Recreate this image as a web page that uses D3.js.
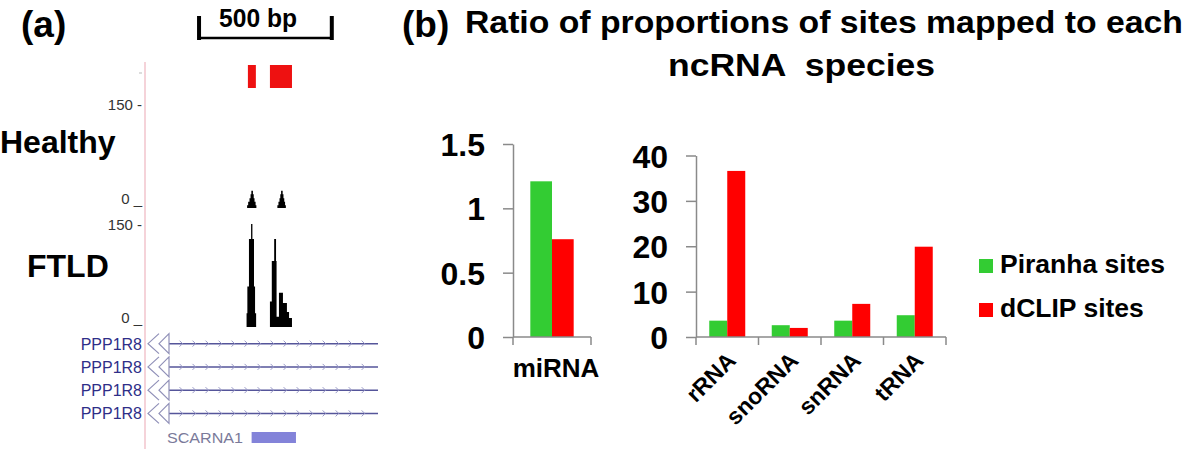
<!DOCTYPE html>
<html>
<head>
<meta charset="utf-8">
<script src="https://cdn.jsdelivr.net/npm/d3@7"></script>
<style>
  html, body { margin: 0; padding: 0; background: #fff; }
  svg { display: block; font-family: "Liberation Sans", Arial, Helvetica, sans-serif; }
</style>
</head>
<body>
<svg id="chart" width="1200" height="449"></svg>
<script>
// ---------------- DATA ----------------
// Panel (b) bar charts
const seriesNames = ["Piranha sites", "dCLIP sites"];
const seriesColors = ["#33cc33", "#ff0000"];
const leftCategories = ["miRNA"];
const leftPiranha = [1.21];
const leftDclip = [0.76];
const leftTicks = [0, 0.5, 1, 1.5];
const leftTickLabels = ["0", "0.5", "1", "1.5"];
const rightCategories = ["rRNA", "snoRNA", "snRNA", "tRNA"];
const rightPiranha = [3.6, 2.6, 3.6, 4.8];
const rightDclip = [36.6, 2.0, 7.3, 19.9];
const rightTicks = [0, 10, 20, 30, 40];
const rightTickLabels = ["0", "10", "20", "30", "40"];
const titleLines = ["Ratio of proportions of sites mapped to each", "ncRNA  species"];

// Panel (a) genome browser (relative bp positions)
const scaleBarLabel = "500 bp";
const scaleBarBp = [196, 696];
const peakCalls = [[380, 410], [463, 546]];
const trackTicks = [0, 150];
const trackNames = ["Healthy", "FTLD"];
const healthyCoverage = [
  [[374, 0], [377, 4], [381, 9], [386, 14], [390, 20], [393, 25], [399, 20], [402, 14], [405, 9], [409, 4], [412, 0]],
  [[488, 0], [491, 4], [495, 9], [499, 14], [502, 20], [505, 25], [511, 20], [514, 14], [517, 9], [520, 4], [523, 0]]
];
const ftldCoverage = [
  [[374, 0], [375, 20], [378, 59], [384, 128], [392, 150], [397, 128], [403, 59], [407, 20], [411, 0]],
  [[462, 0], [463, 37], [470, 96], [479, 128], [486, 96], [488, 15], [497, 50], [512, 35], [527, 22], [535, 13], [546, 0]]
];
const geneNames = ["PPP1R8", "PPP1R8", "PPP1R8", "PPP1R8"];
const smallRna = { name: "SCARNA1", start: 394, end: 561 };

// ---------------- DRAW ----------------
const svg = d3.select("#chart");
const FONT = '"Liberation Sans", Arial, Helvetica, sans-serif';

// ===== Panel (a) =====
const gA = svg.append("g");
gA.append("text").attr("x", 21).attr("y", 37).attr("font-size", 37).attr("font-weight", "bold").text("(a)");

const gx = d3.scaleLinear().domain([0, 870]).range([147, 378]);

// scale bar
const sb = gA.append("g").attr("stroke", "#000");
sb.append("line").attr("x1", gx(scaleBarBp[0])).attr("x2", gx(scaleBarBp[1])).attr("y1", 38).attr("y2", 38).attr("stroke-width", 2.5);
sb.selectAll("line.tick").data(scaleBarBp).join("line").attr("class", "tick")
  .attr("x1", d => gx(d)).attr("x2", d => gx(d)).attr("y1", 16).attr("y2", 40).attr("stroke-width", 4);
gA.append("text").attr("x", 219).attr("y", 27)
  .attr("font-size", 25).attr("font-weight", "bold")
  .attr("textLength", 78).attr("lengthAdjust", "spacingAndGlyphs")
  .text(scaleBarLabel);

// pink vertical line
gA.append("line").attr("x1", 145).attr("x2", 145).attr("y1", 62).attr("y2", 449)
  .attr("stroke", "#f2c4cc").attr("stroke-width", 1.5);
gA.append("line").attr("x1", 139).attr("x2", 142).attr("y1", 73).attr("y2", 73).attr("stroke", "#bbb");

// peak calls
gA.selectAll("rect.peak").data(peakCalls).join("rect").attr("class", "peak")
  .attr("x", d => gx(d[0])).attr("width", d => gx(d[1]) - gx(d[0]))
  .attr("y", 65).attr("height", 23).attr("fill", "#ee1111");

// tracks
const tracks = [
  { name: trackNames[0], cov: healthyCoverage, y: d3.scaleLinear().domain([0, 150]).range([208, 104]).clamp(true), labelX: 0, labelY: 153 },
  { name: trackNames[1], cov: ftldCoverage, y: d3.scaleLinear().domain([0, 150]).range([327, 224]).clamp(true), labelX: 27, labelY: 277 }
];
tracks.forEach(t => {
  gA.append("text").attr("x", t.labelX).attr("y", t.labelY).attr("font-size", 32).attr("font-weight", "bold").text(t.name);
  trackTicks.forEach(v => {
    gA.append("text").attr("x", 142).attr("y", t.y(v) + (v === 0 ? -4 : 6))
      .attr("text-anchor", "end").attr("font-size", 15).attr("fill", "#333")
      .text(v === 0 ? "0 _" : v + " -");
  });
  const area = d3.area().curve(d3.curveStepAfter).x(d => gx(d[0])).y0(t.y(0)).y1(d => t.y(d[1]));
  gA.selectAll(null).data(t.cov).join("path").attr("d", area).attr("fill", "#000");
});

// genes
const geneY = d3.scaleBand().domain(d3.range(geneNames.length)).range([332, 425]);
geneNames.forEach((g, i) => {
  const cy = geneY(i) + geneY.bandwidth() / 2;
  gA.append("text").attr("x", 142).attr("y", cy + 6).attr("text-anchor", "end")
    .attr("font-size", 16).attr("fill", "#2e2e88").text(g);
  gA.append("line").attr("x1", 169).attr("x2", gx(870)).attr("y1", cy).attr("y2", cy)
    .attr("stroke", "#55559a").attr("stroke-width", 1.5);
  gA.append("path").attr("d", `M159,${cy - 10} L148,${cy} L159,${cy + 10}`)
    .attr("fill", "none").attr("stroke", "#9090b8").attr("stroke-width", 1.2);
  gA.append("path").attr("d", `M169,${cy - 10} L159,${cy} L169,${cy + 10} Z`)
    .attr("fill", "none").attr("stroke", "#9090b8").attr("stroke-width", 1.2);
  const chev = d3.range(130, 860, 49);
  gA.selectAll(null).data(chev).join("path")
    .attr("d", d => `M${gx(d) - 2},${cy - 3} L${gx(d) + 1},${cy} L${gx(d) - 2},${cy + 3}`)
    .attr("fill", "none").attr("stroke", "#9a9ac8").attr("stroke-width", 1);
});
gA.append("text").attr("x", 167).attr("y", 443).attr("font-size", 15).attr("fill", "#7a7a9a")
  .attr("textLength", 76).attr("lengthAdjust", "spacingAndGlyphs").text(smallRna.name);
gA.append("rect").attr("x", gx(smallRna.start)).attr("width", gx(smallRna.end) - gx(smallRna.start))
  .attr("y", 432).attr("height", 11).attr("fill", "#8383d9");

// ===== Panel (b) =====
const gB = svg.append("g");
gB.append("text").attr("x", 402).attr("y", 37).attr("font-size", 37).attr("font-weight", "bold").text("(b)");
gB.append("text").attr("x", 465).attr("y", 33).attr("font-size", 31).attr("font-weight", "bold")
  .attr("textLength", 718).attr("lengthAdjust", "spacingAndGlyphs").text(titleLines[0]);
gB.append("text").attr("x", 668).attr("y", 76).attr("font-size", 31).attr("font-weight", "bold")
  .attr("textLength", 267).attr("lengthAdjust", "spacingAndGlyphs").attr("xml:space", "preserve").text(titleLines[1]);

function barChart(opts) {
  const g = gB.append("g");
  const x0 = d3.scaleBand().domain(opts.categories).range(opts.xRange);
  const bw = x0.bandwidth();
  const pad = (bw - 2 * bw * opts.barFrac) / 2;
  const x1 = d3.scaleBand().domain(seriesNames).range([pad, bw - pad]);
  const y = d3.scaleLinear().domain(opts.domain).range(opts.yRange);
  const data = opts.categories.map((c, i) => ({ cat: c, vals: [opts.s1[i], opts.s2[i]] }));

  // bars
  const grp = g.selectAll("g.cat").data(data).join("g").attr("class", "cat")
    .attr("transform", d => `translate(${x0(d.cat)},0)`);
  grp.selectAll("rect").data(d => d.vals.map((v, j) => ({ v, s: seriesNames[j], j })))
    .join("rect")
    .attr("x", d => x1(d.s)).attr("width", x1.bandwidth())
    .attr("y", d => y(d.v)).attr("height", d => y(0) - y(d.v))
    .attr("fill", d => seriesColors[d.j]);

  // y axis
  const ax = g.append("g").attr("transform", `translate(${opts.xRange[0]},0)`)
    .call(d3.axisLeft(y).tickValues(opts.ticks).tickFormat((d, i) => opts.tickLabels[i])
      .tickSize(10).tickPadding(18).tickSizeOuter(0));
  ax.select(".domain").attr("stroke", "#8a8a8a").attr("stroke-width", 1.5);
  ax.selectAll(".tick line").attr("stroke", "#8a8a8a").attr("stroke-width", 1.5);
  ax.selectAll(".tick text").attr("font-size", 32).attr("font-weight", "bold")
    .attr("font-family", FONT).attr("fill", "#000").attr("dy", "0.36em");

  // x baseline + boundary ticks
  g.append("line").attr("x1", opts.xRange[0]).attr("x2", opts.xRange[1])
    .attr("y1", y(0)).attr("y2", y(0)).attr("stroke", "#8a8a8a").attr("stroke-width", 1.5);
  const bounds = opts.categories.map(c => x0(c)).concat([opts.xRange[1]]);
  g.selectAll("line.bnd").data(bounds).join("line").attr("class", "bnd")
    .attr("x1", d => d).attr("x2", d => d).attr("y1", y(0)).attr("y2", y(0) + 8)
    .attr("stroke", "#8a8a8a").attr("stroke-width", 1.5);

  // category labels
  if (opts.rotate) {
    g.selectAll("text.cat").data(opts.categories).join("text").attr("class", "cat")
      .attr("transform", c => `translate(${x0(c) + bw / 2 + 10},${y(0) + 25}) rotate(-45)`)
      .attr("text-anchor", "end").attr("font-size", 23).attr("font-weight", "bold").text(c => c);
  } else {
    g.selectAll("text.cat").data(opts.categories).join("text").attr("class", "cat")
      .attr("x", c => x0(c) + bw / 2 + 4).attr("y", y(0) + 40)
      .attr("text-anchor", "middle").attr("font-size", 26).attr("font-weight", "bold").text(c => c);
  }
}

barChart({ categories: leftCategories, s1: leftPiranha, s2: leftDclip, xRange: [513, 591],
  domain: [0, 1.5], yRange: [337, 144], ticks: leftTicks, tickLabels: leftTickLabels, barFrac: 0.278, rotate: false });
barChart({ categories: rightCategories, s1: rightPiranha, s2: rightDclip, xRange: [696, 946],
  domain: [0, 40], yRange: [337, 155.5], ticks: rightTicks, tickLabels: rightTickLabels, barFrac: 0.288, rotate: true });

// legend
const lg = gB.append("g").attr("transform", "translate(979,259)");
seriesNames.forEach((s, i) => {
  lg.append("rect").attr("x", 0).attr("y", i * 44).attr("width", 14).attr("height", 14).attr("fill", seriesColors[i]);
  lg.append("text").attr("x", 21).attr("y", i * 44 + 14).attr("font-size", 26.5).attr("font-weight", "bold").text(s);
});
</script>
</body>
</html>
